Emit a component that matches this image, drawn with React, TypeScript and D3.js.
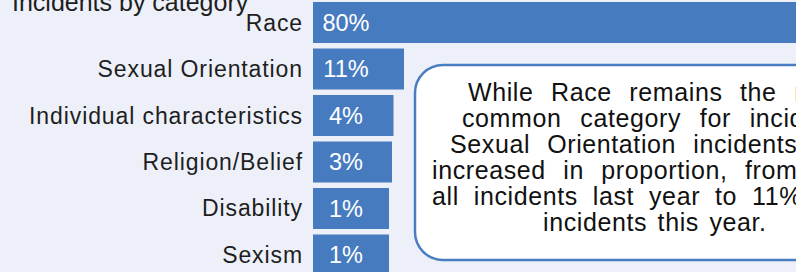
import * as d3 from "d3";
import React from "react";

const categories = [
  "Race",
  "Sexual Orientation",
  "Individual characteristics",
  "Religion/Belief",
  "Disability",
  "Sexism",
];
const shares = [80, 11, 4, 3, 1, 1];
const valueLabels = ["80%", "11%", "4%", "3%", "1%", "1%"];

const title = "Incidents by category";

const noteLines = [
  "While Race remains the most",
  "common category for incidents,",
  "Sexual Orientation incidents have",
  "increased in proportion, from 7% of",
  "all incidents last year to 11% of all",
  "incidents this year.",
];

const width = 796;
const height = 272;
const font = "'Liberation Sans', Arial, sans-serif";

// where each justified line of the note starts and how wide its spaces are
const noteLayout = [
  { x: 468, ws: 10 },
  { x: 462, ws: 11.3 },
  { x: 450, ws: 9.6 },
  { x: 432, ws: 9.9 },
  { x: 432, ws: 7.4 },
  { x: 543, ws: 3 },
];

export default function App() {
  // bars sit on a broken axis: the small categories get a stretched start
  const x = d3.scaleLinear().domain([0, 1, 11, 80]).range([313, 389, 404, 1150]);

  const y = d3
    .scaleBand()
    .domain(categories)
    .range([2, 275.5])
    .paddingInner(0.118)
    .paddingOuter(0);

  const bw = y.bandwidth();

  return (
    <svg
      width={width}
      height={height}
      viewBox={`0 0 ${width} ${height}`}
      style={{ position: "absolute", left: 0, top: 0, display: "block" }}
      fontFamily={font}
    >
      <rect width={width} height={height} fill="#edf0f9" />

      <text x={12} y={11} fontSize={25} fill="#1e1e1e">
        {title}
      </text>

      {categories.map((c, i) => {
        const y0 = y(c) ?? 0;
        return (
          <g key={c}>
            <rect x={x(0)} y={y0} width={x(shares[i]) - x(0)} height={bw} fill="#477bbf" />
            <text
              x={303}
              y={y0 + bw / 2 + 8}
              textAnchor="end"
              fontSize={23}
              letterSpacing={0.9}
              fill="#1e1e1e"
            >
              {c}
            </text>
            <text
              x={346}
              y={y0 + bw / 2 + 8.3}
              textAnchor="middle"
              fontSize={23.5}
              fill="#fff"
            >
              {valueLabels[i]}
            </text>
          </g>
        );
      })}

      <rect
        x={415}
        y={65}
        width={520}
        height={195}
        rx={28}
        ry={28}
        fill="#fff"
        stroke="#4a7cc2"
        strokeWidth={2.5}
      />
      {noteLines.map((line, i) => (
        <text
          key={i}
          x={noteLayout[i].x}
          y={101 + i * 26}
          fontSize={25}
          letterSpacing={0.6}
          wordSpacing={noteLayout[i].ws}
          fill="#111"
        >
          {line}
        </text>
      ))}
    </svg>
  );
}
